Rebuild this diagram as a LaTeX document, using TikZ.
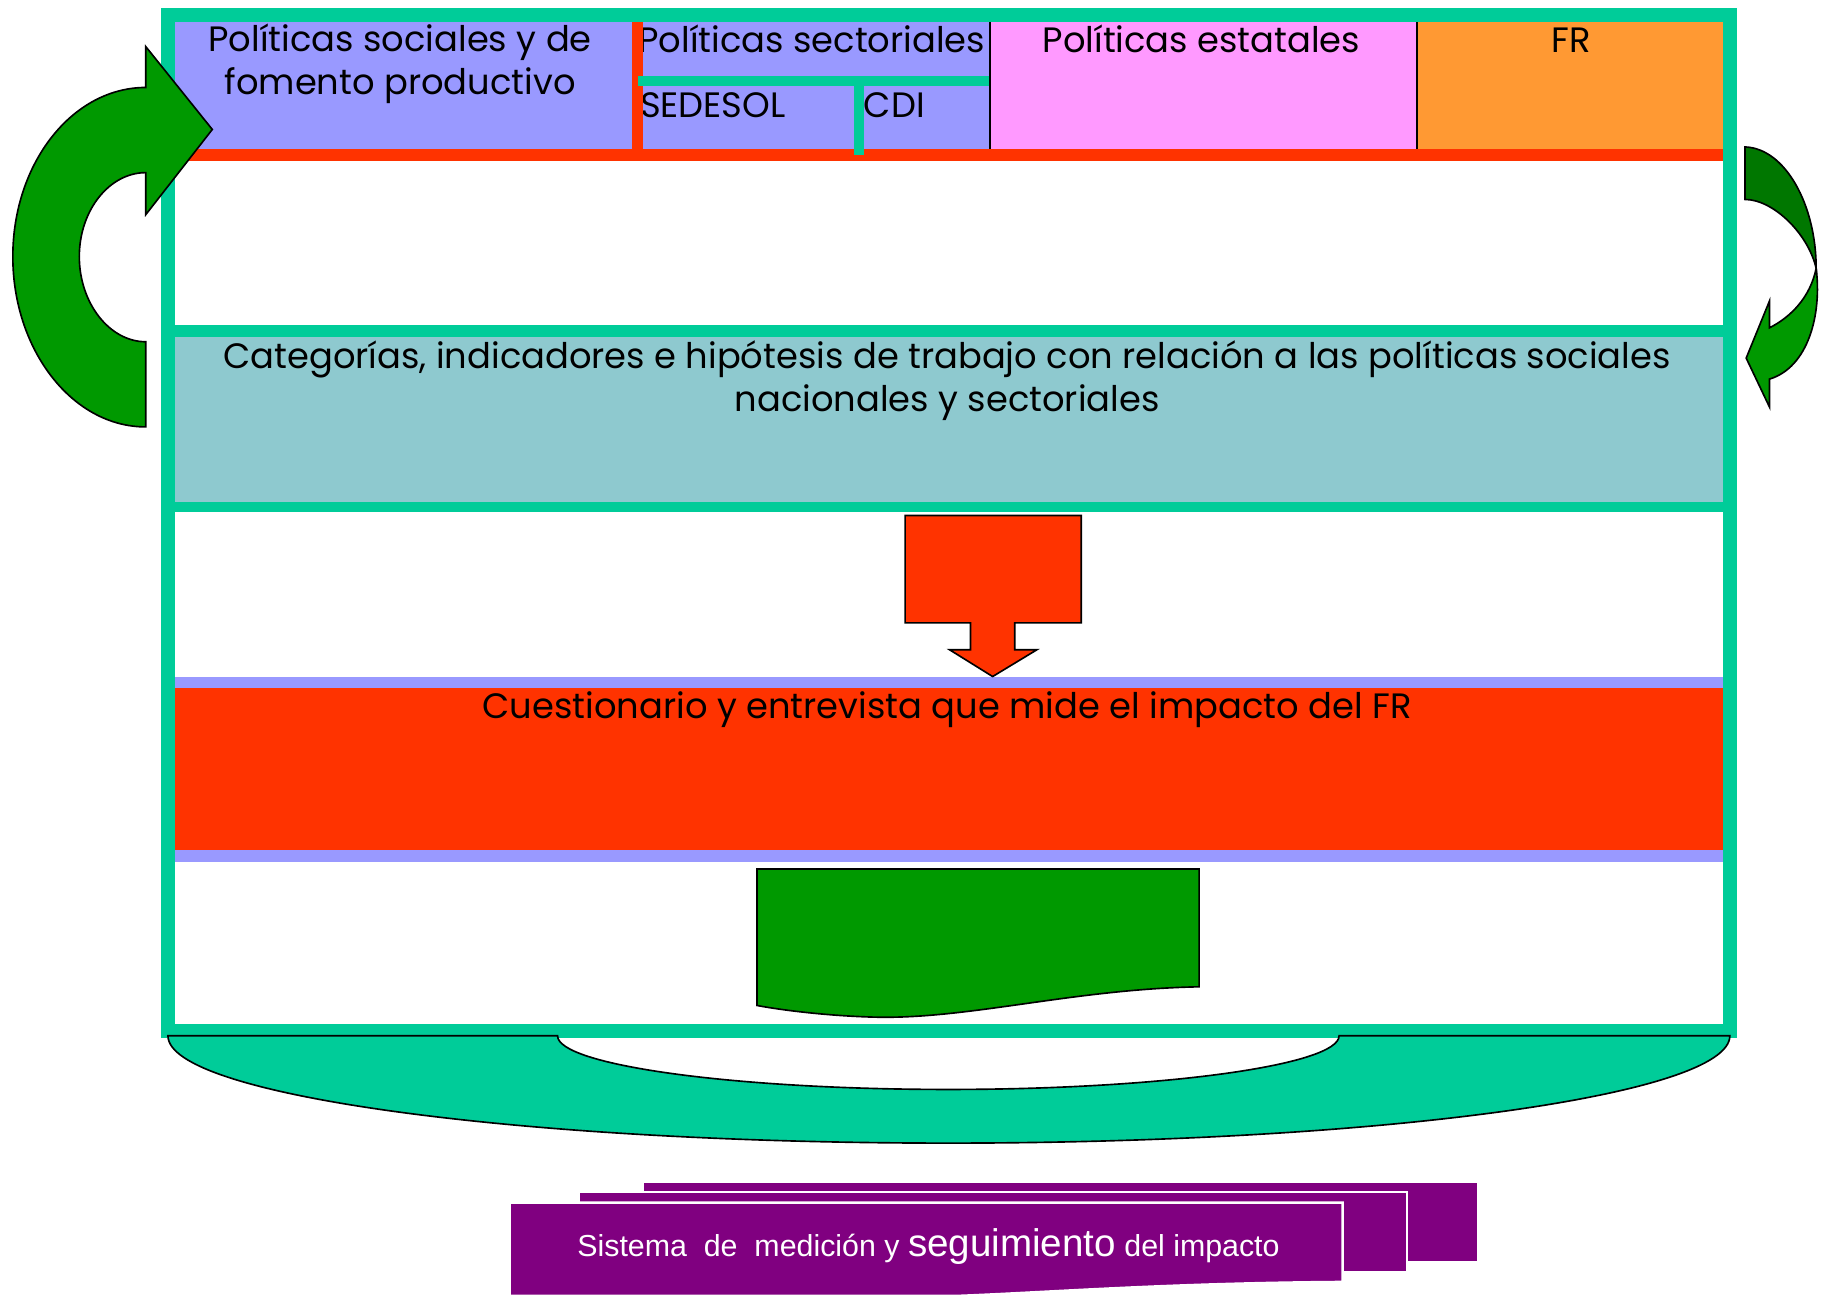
\documentclass[tikz,border=0pt]{standalone}
\usepackage{fontspec}
\setmainfont{Poppins}
\newfontfamily\arialfont{Liberation Sans}
\usepackage{tikz}
\usetikzlibrary{positioning}

\definecolor{frameteal}{HTML}{00CC99}
\definecolor{cellblue}{HTML}{9999FF}
\definecolor{cellpink}{HTML}{FF99FF}
\definecolor{cellorange}{HTML}{FF9933}
\definecolor{redband}{HTML}{FF3300}
\definecolor{catblue}{HTML}{8EC9CF}
\definecolor{arrowgreen}{HTML}{009900}
\definecolor{darkarrow}{HTML}{007700}
\definecolor{stackpurple}{HTML}{800080}

\begin{document}
\begin{tikzpicture}[x=0.01cm,y=-0.01cm,
txt/.style={inner sep=0pt,font=\fontsize{8.6}{10.5}\selectfont,align=center},
sistxt/.style={inner sep=0pt,text=white,font=\arialfont\fontsize{7.4}{9}\selectfont},
outl/.style={draw=black,line width=0.4pt},
sheet/.style={fill=stackpurple,draw=white,line width=0.6pt}]
\useasboundingbox[fill=white] (0,0) rectangle (1568,1110);

% top row of policies
\fill[cellblue] (148,17) rectangle (849,130);
\fill[cellpink] (849,17) rectangle (1215,130);
\fill[cellorange] (1215,17) rectangle (1477,130);
\fill[redband] (148,128) rectangle (1477,138);
\node (socpol) [txt,anchor=north] at (343,20) {Políticas sociales y de\\fomento productivo};
\node (secpol) [txt,anchor=base] at (696,45) {Políticas sectoriales};
\node (sedesol) [txt,anchor=base west] at (548,101) {SEDESOL};
\node (cdi) [txt,anchor=base west] at (740,101) {CDI};
\node (estpol) [txt,anchor=base] at (1030,45) {Políticas estatales};
\node (fr) [txt,anchor=base] at (1347,45) {FR};
\fill[redband] (542,17) rectangle (551,130);
\fill[frameteal] (547,65) rectangle (849,74);
\fill[frameteal] (732,74) rectangle (741,133);
\draw[black,line width=0.5pt] (849,17) -- (849,128) (1215,17) -- (1215,128);

% categories band
\fill[catblue] (148,289) rectangle (1477,430);
\node (categ) [txt,anchor=north] at (812,291)
  {Categorías, indicadores e hipótesis de trabajo con relación a las políticas sociales\\nacionales y sectoriales};

% questionnaire band
\fill[cellblue] (148,580) rectangle (1477,739);
\fill[redband] (148,590) rectangle (1477,729);
\node (cuest) [txt,anchor=base] at (812,616) {Cuestionario y entrevista que mide el impacto del FR};

% frame
\fill[frameteal] (144,279) rectangle (1483,289);
\fill[frameteal] (144,430) rectangle (1483,439);
\draw[frameteal,line width=0.12cm] (144,13) rectangle (1483,884);

% block arrow and document
\filldraw[fill=redband,outl] (776,442) -- (927,442) -- (927,534) -- (870,534) -- (870,557)
  -- (889,557) -- (851,580) -- (814,557) -- (832,557) -- (832,534) -- (776,534) -- cycle;
\filldraw[fill=arrowgreen,outl] (649,745) -- (1028,745) -- (1028,846)
  .. controls (920,848) and (830,874) .. (750,872)
  .. controls (710,871) and (670,866) .. (649,862) -- cycle;

% bowl
\filldraw[fill=frameteal,outl] (144,888) -- (478,888)
  .. controls (478,913) and (628,934) .. (813,934)
  .. controls (998,934) and (1148,913) .. (1148,888) -- (1483,888)
  .. controls (1483,939) and (1182,980) .. (813,980)
  .. controls (444,980) and (144,939) .. (144,888) -- cycle;

% curved arrows
\filldraw[fill=arrowgreen,outl] (125,366)
  .. controls (62,366) and (11,300) .. (11,220)
  .. controls (11,140) and (62,75) .. (125,75)
  -- (125,40) -- (182,111) -- (125,184) -- (125,148)
  .. controls (94,148) and (68,180) .. (68,220)
  .. controls (68,260) and (94,293) .. (125,293) -- cycle;
\filldraw[fill=darkarrow,outl] (1496,126)
  .. controls (1530,127) and (1557,175) .. (1557,230)
  .. controls (1550,200) and (1520,171) .. (1496,171) -- cycle;
\filldraw[fill=arrowgreen,outl] (1557,230)
  .. controls (1562,270) and (1550,315) .. (1517,325)
  -- (1517,349) -- (1497,307) -- (1517,258) -- (1517,281)
  .. controls (1535,272) and (1552,255) .. (1557,230) -- cycle;

% stacked sheets
\filldraw[sheet] (551,1013) rectangle (1267,1082);
\filldraw[sheet] (496,1022) rectangle (1206,1091);
\filldraw[sheet] (437,1031) -- (1151,1031) -- (1151,1099)
  .. controls (1000,1100) and (900,1108) .. (820,1111) -- (437,1111) -- cycle;
\node (sistema) [sistxt,anchor=base] at (796,1077)
  {Sistema\ \ de\ \ medición y {\fontsize{9.4}{11}\selectfont seguimiento} del impacto};
\end{tikzpicture}
\end{document}
